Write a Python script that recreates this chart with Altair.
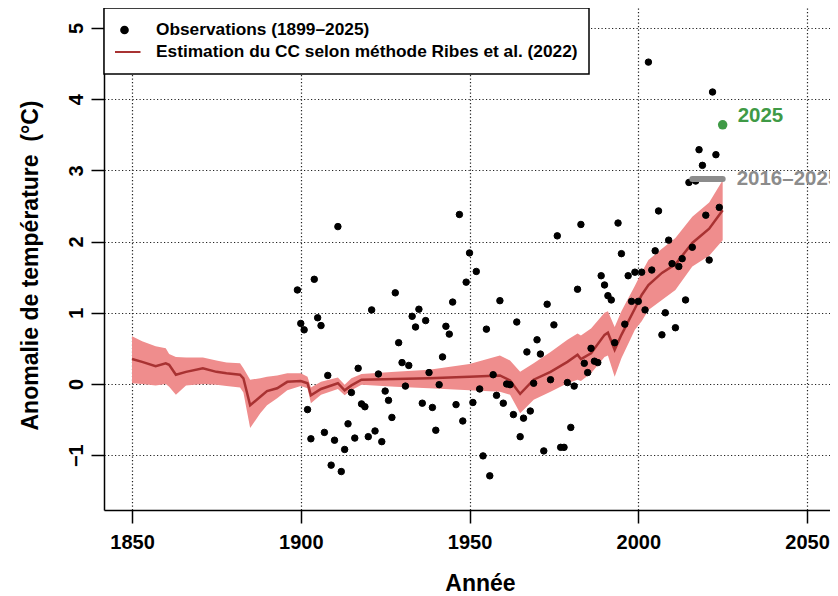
import altair as alt
import pandas as pd

LAB_OBS = "Observations (1899–2025)"
LAB_CC = "Estimation du CC selon méthode Ribes et al. (2022)"
FONT = "Liberation Sans"

# Observations annuelles (1899-2024), points noirs
obs_years = list(range(1899, 2025))
obs_values = [
    1.32, 0.85, 0.76, -0.36, -0.77, 1.47, 0.93, 0.82, -0.68, 0.12,   # 1899-1908
    -1.14, -0.79, 2.21, -1.23, -0.92, -0.56, -0.12, -0.76, 0.22, -0.28,  # 1909-1918
    -0.32, -0.74, 1.04, -0.66, 0.14, -0.81, -0.10, -0.23, -0.47, 1.28,  # 1919-1928
    0.58, 0.30, -0.03, 0.26, 0.95, 0.80, 1.05, -0.27, 0.89, 0.16,      # 1929-1938
    -0.33, -0.65, -0.01, 0.38, 0.81, 0.70, 1.15, -0.29, 2.38, -0.52,    # 1939-1948
    1.43, 1.84, -0.26, 1.58, -0.07, -1.01, 0.77, -1.29, 0.13, -0.16,    # 1949-1958
    1.17, -0.27, 0.00, -0.01, -0.43, 0.87, -0.74, -0.48, 0.45, -0.38,   # 1959-1968
    0.01, 0.62, 0.42, -0.94, 1.12, 0.06, 0.83, 2.08, -0.89, -0.89,      # 1969-1978
    0.02, -0.61, -0.03, 1.33, 2.24, 0.29, 0.16, 0.50, 0.32, 0.30,       # 1979-1988
    1.52, 1.39, 1.24, 1.18, 0.58, 2.26, 1.83, 0.84, 1.52, 1.16,         # 1989-1998
    1.57, 1.16, 1.57, 1.04, 4.52, 1.60, 1.87, 2.43, 0.69, 1.00,         # 1999-2008
    2.02, 1.69, 0.79, 1.65, 1.76, 1.18, 2.83, 1.92, 2.85, 3.29,         # 2009-2018
    3.07, 2.37, 1.74, 4.10, 3.22, 2.48,                                 # 2019-2024
]

# Estimation du changement climatique (ligne centrale et enveloppe)
cc_years = [1850, 1853, 1857, 1860, 1861, 1863, 1866, 1871, 1875, 1878,
            1882, 1883, 1885, 1888, 1890, 1893, 1896, 1900, 1902, 1903,
            1906, 1911, 1913, 1915, 1918, 1928, 1938, 1950, 1959, 1962,
            1965, 1969, 1974, 1979, 1982, 1983, 1986, 1990, 1991, 1993,
            1995, 1999, 2001, 2003, 2007, 2011, 2016, 2021, 2025]
cc_centre = [0.35, 0.31, 0.25, 0.29, 0.27, 0.13, 0.17, 0.22, 0.17, 0.15,
             0.13, 0.08, -0.30, -0.18, -0.10, -0.06, 0.03, 0.04, 0.01, -0.16,
             -0.07, 0.01, -0.09, -0.02, 0.06, 0.07, 0.08, 0.10, 0.12, 0.05,
             -0.14, 0.06, 0.17, 0.31, 0.41, 0.35, 0.43, 0.69, 0.72, 0.48,
             0.69, 1.06, 1.25, 1.39, 1.56, 1.68, 1.98, 2.18, 2.44]
cc_bas = [0.01, 0.00, -0.02, 0.00, -0.04, -0.15, -0.02, 0.00, -0.01, -0.03,
          -0.05, -0.12, -0.62, -0.41, -0.30, -0.20, -0.09, -0.03, -0.06, -0.27,
          -0.15, -0.07, -0.16, -0.09, -0.01, -0.04, -0.06, -0.09, -0.11, -0.15,
          -0.41, -0.22, -0.11, 0.01, 0.06, 0.04, 0.15, 0.38, 0.40, 0.10,
          0.36, 0.76, 0.88, 1.04, 1.18, 1.32, 1.65, 1.80, 2.02]
cc_haut = [0.67, 0.60, 0.53, 0.50, 0.42, 0.38, 0.37, 0.37, 0.33, 0.30,
           0.29, 0.22, 0.06, 0.08, 0.10, 0.12, 0.15, 0.15, 0.10, -0.05,
           0.03, 0.09, -0.01, 0.08, 0.14, 0.17, 0.20, 0.28, 0.40, 0.33,
           0.17, 0.29, 0.45, 0.62, 0.71, 0.68, 0.78, 1.00, 1.02, 0.80,
           1.02, 1.38, 1.57, 1.74, 1.90, 2.05, 2.35, 2.55, 2.86]

# Année 2025 et moyenne 2016-2025
an_2025 = [2025]
val_2025 = [3.64]
lab_2025 = ["2025"]
moy_debut = [2016]
moy_fin = [2025]
moy_val = [2.88]
moy_lab = ["2016–2025"]

x_ticks = [1850, 1900, 1950, 2000, 2050]
y_ticks = [-1, 0, 1, 2, 3, 4, 5]

obs_df = pd.DataFrame({"annee": obs_years, "valeur": obs_values, "serie": LAB_OBS})
cc_df = pd.DataFrame({"annee": cc_years, "centre": cc_centre, "bas": cc_bas, "haut": cc_haut})
g_df = pd.DataFrame({"annee": an_2025, "valeur": val_2025, "etiquette": lab_2025})
m_df = pd.DataFrame({"debut": moy_debut, "fin": moy_fin, "valeur": moy_val, "etiquette": moy_lab})

x_scale = alt.Scale(domain=[1841.7, 2056.8], nice=False, zero=False)
y_scale = alt.Scale(domain=[-1.77, 5.28], nice=False, zero=False)

x_axis = alt.Axis(values=x_ticks, format="d", title="Année", labelPadding=9,
                  titleX=376, titleY=80, titleAlign="center", titleBaseline="alphabetic",
                  titleFontSize=23)
y_axis = alt.Axis(values=y_ticks, format="d", title="Anomalie de température\u00a0 (°C)",
                  labelAngle=270, labelAlign="center", labelBaseline="alphabetic",
                  labelPadding=9, titleAngle=270, titleX=-67, titleY=257,
                  titleAlign="center", titleBaseline="alphabetic", titleFontSize=23)

X = lambda f: alt.X(f, type="quantitative", scale=x_scale, axis=x_axis)
Y = lambda f: alt.Y(f, type="quantitative", scale=y_scale, axis=y_axis)

legend_def = alt.Legend(
    title=None, orient="none", legendX=0, legendY=0, direction="vertical",
    padding=11, rowPadding=0, clipHeight=22, strokeColor="black", fillColor="white",
    symbolFillColor="black", symbolStrokeWidth=2.2,
    symbolOffset=-8, labelOffset=14, labelLimit=700,
    labelFont=FONT, labelFontSize=17.3, labelFontWeight="bold", labelColor="black",
)
dom = [LAB_OBS, LAB_CC]

band = alt.Chart(cc_df).mark_area(color="#ef8d8d", opacity=1).encode(
    x=X("annee"), y=Y("bas"), y2="haut")
line = alt.Chart(cc_df).mark_line(color="#a83232", strokeWidth=2.5).encode(
    x=X("annee"), y=Y("centre"))
points = alt.Chart(obs_df).mark_point(filled=False, fill="black", strokeWidth=1, opacity=1).encode(
    x=X("annee"), y=Y("valeur"),
    color=alt.Color("serie:N", scale=alt.Scale(domain=dom, range=["black", "#a83232"]), legend=legend_def),
    shape=alt.Shape("serie:N", scale=alt.Scale(domain=dom, range=["circle", "stroke"]), legend=legend_def),
    size=alt.Size("serie:N", scale=alt.Scale(type="ordinal", domain=dom, range=[42, 1024]), legend=legend_def),
)
moy = alt.Chart(m_df).mark_rule(color="#8c8c8c", strokeWidth=6, strokeCap="round").encode(
    x=X("debut"), x2="fin", y=Y("valeur"))
moy_txt = alt.Chart(m_df).mark_text(align="left", baseline="middle", dx=14, font=FONT,
                                     fontSize=20.5, fontWeight="bold", color="#8c8c8c").encode(
    x=X("fin"), y=Y("valeur"), text="etiquette")
g_pt = alt.Chart(g_df).mark_point(filled=True, size=90, color="#3f9a46", opacity=1).encode(
    x=X("annee"), y=Y("valeur"))
g_txt = alt.Chart(g_df).mark_text(align="left", baseline="middle", dx=15, dy=-9, font=FONT,
                                  fontSize=20.5, fontWeight="bold", color="#3f9a46").encode(
    x=X("annee"), y=Y("valeur"), text="etiquette")

chart = alt.layer(band, line, points, moy, moy_txt, g_pt, g_txt).properties(
    width=726, height=502, autosize="none",
    padding={"left": 96, "top": 0, "right": 0, "bottom": 86},
).configure_view(stroke="transparent").configure_axis(
    labelFont=FONT, labelFontSize=20, labelFontWeight="bold", labelColor="black",
    titleFont=FONT, titleFontWeight="bold", titleColor="black",
    domainColor="black", domainWidth=1.5, tickColor="black", tickWidth=1.5, tickSize=13,
    grid=True, gridColor="#222222", gridDash=[1.2, 2.3], gridWidth=1.2,
).configure_legend(strokeWidth=1.5)

chart.save("out.html", embed_options={"renderer": "svg", "actions": False})
